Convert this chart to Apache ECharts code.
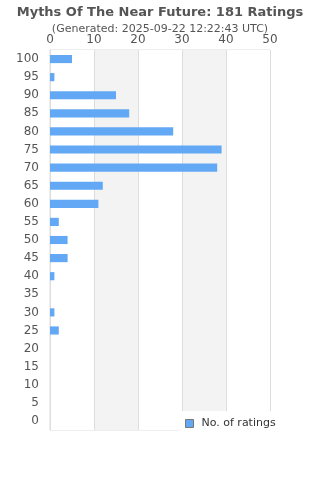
<!DOCTYPE html>
<html>
<head>
<meta charset="utf-8">
<script src="https://cdn.jsdelivr.net/npm/echarts@6/dist/echarts.min.js"></script>
<style>
  html, body { margin: 0; padding: 0; background: #fff; }
  #chart { width: 320px; height: 480px; }
</style>
</head>
<body>
<div id="chart"></div>
<script>
const titleText = 'Myths Of The Near Future: 181 Ratings';
const subtitleText = '(Generated: 2025-09-22 12:22:43 UTC)';
const ratingLevels = ['0', '5', '10', '15', '20', '25', '30', '35', '40', '45', '50',
  '55', '60', '65', '70', '75', '80', '85', '90', '95', '100'];
const ratingCounts = [0, 0, 0, 0, 0, 2, 1, 0, 1, 4, 4, 2, 11, 12, 38, 39, 28, 18, 15, 1, 5];
const seriesName = 'No. of ratings';

const font = 'DejaVu Sans, sans-serif';
const chart = echarts.init(document.getElementById('chart'));

chart.setOption({
  animation: false,
  title: {
    text: titleText,
    subtext: subtitleText,
    left: 'center',
    top: 1,
    itemGap: 5,
    textStyle: { fontFamily: font, fontSize: 13, fontWeight: 'bold', color: '#555' },
    subtextStyle: { fontFamily: font, fontSize: 11, color: '#555' }
  },
  grid: { left: 50, right: 50, top: 50, bottom: 50, show: true, borderColor: '#ddd', borderWidth: 1 },
  xAxis: {
    type: 'value',
    position: 'top',
    min: 0,
    max: 50,
    interval: 10,
    axisLine: { show: false },
    axisTick: { show: false },
    axisLabel: { fontFamily: font, fontSize: 12, color: '#555', margin: 4 },
    splitLine: { show: true, lineStyle: { color: '#ddd', width: 1 } },
    splitArea: { show: true, areaStyle: { color: ['#fff', '#f3f3f3'] } }
  },
  yAxis: {
    type: 'category',
    data: ratingLevels,
    axisLine: { show: true, lineStyle: { color: '#ddd', width: 1 } },
    axisTick: { show: false },
    axisLabel: { fontFamily: font, fontSize: 12, color: '#555', margin: 11 },
    splitLine: { show: false }
  },
  legend: {
    data: [seriesName],
    left: 178,
    top: 411,
    backgroundColor: '#fff',
    padding: [7, 60, 5, 7],
    icon: 'path://M0,0H10V10H0Z',
    itemWidth: 14,
    itemHeight: 8,
    itemStyle: { borderColor: '#777', borderWidth: 1 },
    textStyle: { fontFamily: font, fontSize: 11, color: '#333' }
  },
  series: [{
    name: seriesName,
    type: 'bar',
    data: ratingCounts,
    barWidth: '45%',
    itemStyle: { color: '#62a8f4', borderWidth: 0 }
  }]
});
</script>
</body>
</html>
